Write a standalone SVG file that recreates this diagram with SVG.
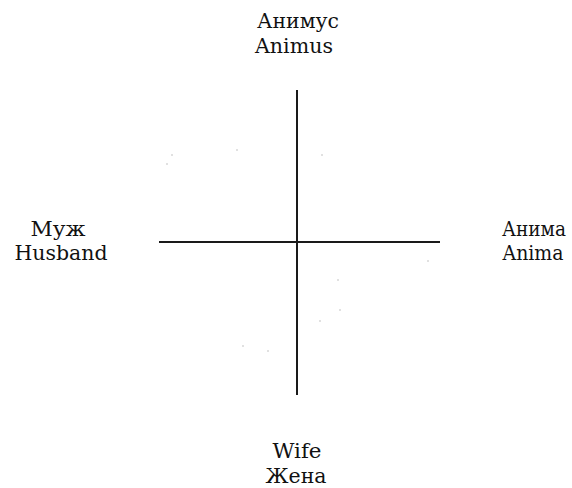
<svg xmlns="http://www.w3.org/2000/svg" width="572" height="488" viewBox="0 0 572 488">
<style>
.ax{stroke:#1a1a1a;stroke-width:2;fill:none}
.sp{fill:#bbb}
.t{font-family:"DejaVu Serif","Liberation Serif",serif;font-size:20px;fill:#111;text-anchor:middle}
</style>
<rect width="572" height="488" fill="#fff"/>
<g id="connectors">
<line class="ax" x1="297" y1="90" x2="297" y2="395"/>
<line class="ax" x1="159" y1="242" x2="440" y2="242"/>
</g>
<g id="specks">
<circle class="sp" cx="172" cy="155" r="0.8"/>
<circle class="sp" cx="167" cy="164" r="0.8"/>
<circle class="sp" cx="237" cy="150" r="0.8"/>
<circle class="sp" cx="322" cy="155" r="0.8"/>
<circle class="sp" cx="428" cy="261" r="0.8"/>
<circle class="sp" cx="338" cy="280" r="0.8"/>
<circle class="sp" cx="340" cy="310" r="0.8"/>
<circle class="sp" cx="320" cy="321" r="0.8"/>
<circle class="sp" cx="243" cy="346" r="0.8"/>
<circle class="sp" cx="268" cy="351" r="0.8"/>
</g>
<g id="animus">
<text class="t" x="298" y="28" textLength="82" lengthAdjust="spacingAndGlyphs">Анимус</text>
<text class="t" x="294" y="53" textLength="78" lengthAdjust="spacingAndGlyphs">Animus</text>
</g>
<g id="husband">
<text class="t" x="58" y="236" textLength="55" lengthAdjust="spacingAndGlyphs">Муж</text>
<text class="t" x="61" y="260" textLength="93" lengthAdjust="spacingAndGlyphs">Husband</text>
</g>
<g id="anima">
<text class="t" x="534" y="236" textLength="64" lengthAdjust="spacingAndGlyphs">Анима</text>
<text class="t" x="533" y="260" textLength="61" lengthAdjust="spacingAndGlyphs">Anima</text>
</g>
<g id="wife">
<text class="t" x="297" y="458" textLength="49" lengthAdjust="spacingAndGlyphs">Wife</text>
<text class="t" x="296" y="483" textLength="61" lengthAdjust="spacingAndGlyphs">Жена</text>
</g>
</svg>
